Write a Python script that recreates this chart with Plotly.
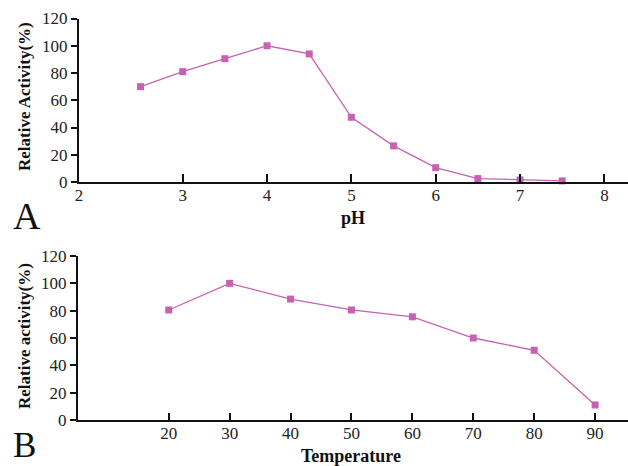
import plotly.graph_objects as go

# Panel A: pH profile
ph_values = [2.5, 3, 3.5, 4, 4.5, 5, 5.5, 6, 6.5, 7, 7.5]
ph_activity = [70, 81, 90.5, 100, 94, 47.5, 26.5, 10.5, 2.5, 1.5, 0.8]
ph_tickvals = [1.77, 3, 4, 5, 6, 7, 8]
ph_ticktext = ["2", "3", "4", "5", "6", "7", "8"]

# Panel B: temperature profile
temp_values = [20, 30, 40, 50, 60, 70, 80, 90]
temp_activity = [80.5, 100, 88.5, 80.5, 75.5, 60, 51, 11]
temp_tickvals = [20, 30, 40, 50, 60, 70, 80, 90]

y_ticks = [0, 20, 40, 60, 80, 100, 120]

W, H = 628, 466
color = "#c762b3"
font_family = "Liberation Serif, Times New Roman, serif"

fig = go.Figure()
fig.add_trace(go.Scatter(
    x=ph_values, y=ph_activity, mode="lines+markers",
    line=dict(color=color, width=1.3),
    marker=dict(symbol="square", size=7, color=color),
    xaxis="x", yaxis="y", showlegend=False, cliponaxis=False))
fig.add_trace(go.Scatter(
    x=temp_values, y=temp_activity, mode="lines+markers",
    line=dict(color=color, width=1.3),
    marker=dict(symbol="square", size=7, color=color),
    xaxis="x2", yaxis="y2", showlegend=False, cliponaxis=False))

def px_x(p):
    return p / W

def px_y(p):
    return 1 - p / H

tickfont = dict(family=font_family, size=17, color="#222")
ytitlefont = dict(family=font_family, size=17, color="#111", weight="bold")
xtitlefont = dict(family=font_family, size=18, color="#111", weight="bold")

axis_common = dict(showgrid=False, zeroline=False, showline=True,
                   linecolor="#111", linewidth=2, tickfont=tickfont,
                   tickcolor="#111", tickwidth=2, automargin=False)

fig.update_layout(
    width=W, height=H,
    margin=dict(l=0, r=0, t=0, b=0, autoexpand=False),
    paper_bgcolor="white", plot_bgcolor="white",
    xaxis=dict(domain=[px_x(79), 1], range=[1.77, 8.28],
               tickvals=ph_tickvals, ticktext=ph_ticktext,
               ticks="inside", ticklen=8, anchor="y", ticklabelstandoff=-3,
               **axis_common),
    yaxis=dict(domain=[px_y(182), px_y(18.5)], range=[0, 120],
               tickvals=y_ticks, ticks="outside", ticklen=6, anchor="x",
               **axis_common),
    xaxis2=dict(domain=[px_x(78), 1], range=[5.1, 95.4],
                tickvals=temp_tickvals, ticks="inside", ticklen=7,
                anchor="y2", ticklabelstandoff=-3, **axis_common),
    yaxis2=dict(domain=[px_y(420), px_y(256)], range=[0, 120],
                tickvals=y_ticks, ticks="outside", ticklen=6, anchor="x2",
                **axis_common),
)

annotations = [
    dict(text="Relative Activity(%)", x=px_x(24), y=px_y(97), textangle=-90,
         font=ytitlefont),
    dict(text="pH", x=px_x(353), y=px_y(218), font=xtitlefont),
    dict(text="Relative activity(%)", x=px_x(24), y=px_y(336), textangle=-90,
         font=ytitlefont),
    dict(text="Temperature", x=px_x(351), y=px_y(456), font=xtitlefont),
    dict(text="A", x=px_x(27), y=px_y(216),
         font=dict(family=font_family, size=38, color="#111")),
    dict(text="B", x=px_x(24), y=px_y(445),
         font=dict(family=font_family, size=35, color="#111")),
]
for a in annotations:
    a.update(xref="paper", yref="paper", showarrow=False,
             xanchor="center", yanchor="middle")
fig.update_layout(annotations=annotations)

fig.write_html("out.html",
               config={"displayModeBar": False},
               post_script="document.body.style.margin='0';"
                           "document.body.style.overflow='hidden';")
